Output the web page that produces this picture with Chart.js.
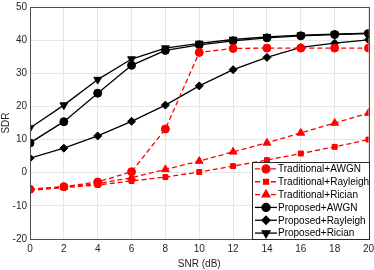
<!DOCTYPE html>
<html lang="en">
<head>
<meta charset="UTF-8">
<title>SDR vs SNR</title>
<script src="https://cdn.jsdelivr.net/npm/chart.js"></script>
<style>
  html, body { margin: 0; padding: 0; background: #fff; }
  #wrap { width: 374px; height: 270px; }
</style>
</head>
<body>
<div id="wrap"><canvas id="chart" width="374" height="270"></canvas></div>
<script>
// SNR values (dB)
const snr = [0, 2, 4, 6, 8, 10, 12, 14, 16, 18, 20];

// SDR values
const tradAwgn     = [-5.0, -4.2, -2.8, 0.3, 13.2, 36.3, 37.5, 37.6, 37.6, 37.6, 37.6];
const tradRayleigh = [-5.3, -4.5, -3.7, -2.5, -1.3, 0.2, 2.0, 3.8, 5.8, 7.8, 10.0];
const tradRician   = [-5.0, -4.3, -3.3, -1.5, 1.0, 3.5, 6.3, 9.0, 12.0, 15.0, 18.0];
const propAwgn     = [9.0, 15.4, 24.0, 32.4, 36.9, 38.6, 39.8, 40.7, 41.3, 41.7, 42.0];
const propRayleigh = [4.4, 7.4, 11.1, 15.5, 20.4, 26.2, 31.1, 34.8, 37.8, 39.1, 40.1];
const propRician   = [13.5, 20.4, 28.1, 34.3, 37.6, 39.0, 40.2, 41.0, 41.5, 41.8, 42.1];

const xTicks = [0, 2, 4, 6, 8, 10, 12, 14, 16, 18, 20];
const yTicks = [-20, -10, 0, 10, 20, 30, 40, 50];

const RED = '#ff0000';
const BLACK = '#000000';
const FONT = '"Liberation Sans", Arial, Helvetica, sans-serif';

function pts(ys) {
  return snr.map((x, i) => ({ x: x, y: ys[i] }));
}

function series(label, ys, color, style, dashed, rot, r) {
  return {
    label: label,
    data: pts(ys),
    borderColor: color,
    backgroundColor: color,
    borderWidth: 1.3,
    borderDash: dashed ? [5, 3] : [],
    pointStyle: style,
    pointRotation: rot || 0,
    pointRadius: r || 4,
    pointBorderWidth: 1,
    pointBorderColor: color,
    pointBackgroundColor: color,
    fill: false,
    tension: 0
  };
}

const datasets = [
  series('Traditional+AWGN', tradAwgn, RED, 'circle', true),
  series('Traditional+Rayleigh', tradRayleigh, RED, 'rect', true, 0, 3.5),
  series('Traditional+Rician', tradRician, RED, 'triangle', true, 0, 4.5),
  series('Proposed+AWGN', propAwgn, BLACK, 'circle', false),
  series('Proposed+Rayleigh', propRayleigh, BLACK, 'rectRot', false, 0, 4),
  series('Proposed+Rician', propRician, BLACK, 'triangle', false, 180, 4.5)
];

// box around plot + legend drawn inside the axes
const boxAndLegend = {
  id: 'boxAndLegend',
  afterDraw(chart) {
    const ctx = chart.ctx;
    const a = chart.chartArea;
    ctx.save();
    ctx.strokeStyle = '#4d4d4d';
    ctx.lineWidth = 1;
    ctx.setLineDash([]);
    ctx.strokeRect(Math.round(a.left) + 0.5, Math.round(a.top) + 0.5,
                   Math.round(a.right - a.left), Math.round(a.bottom - a.top));

    // legend
    const lx = 252, ly = 162, lw = 117, lh = 77;
    ctx.fillStyle = '#fff';
    ctx.fillRect(lx, ly, lw, lh);
    ctx.strokeStyle = '#262626';
    ctx.strokeRect(lx + 0.5, ly + 0.5, lw, lh);
    const rowH = lh / datasets.length;
    ctx.font = '10px ' + FONT;
    ctx.textBaseline = 'middle';
    chart.data.datasets.forEach((ds, i) => {
      const cy = ly + rowH * (i + 0.5) + 0.5;
      ctx.strokeStyle = ds.borderColor;
      ctx.lineWidth = ds.borderWidth;
      ctx.setLineDash(ds.borderDash);
      ctx.beginPath();
      ctx.moveTo(lx + 3, cy);
      ctx.lineTo(lx + 25, cy);
      ctx.stroke();
      ctx.setLineDash([]);
      ctx.fillStyle = ds.backgroundColor;
      Chart.helpers.drawPoint(ctx, {
        pointStyle: ds.pointStyle,
        rotation: ds.pointRotation,
        radius: ds.pointRadius,
        borderWidth: 1
      }, lx + 14, cy);
      ctx.fillStyle = '#000';
      ctx.fillText(ds.label, lx + 26, cy + 0.5);
    });
    ctx.restore();
  }
};

new Chart(document.getElementById('chart'), {
  type: 'line',
  data: { datasets: datasets },
  options: {
    responsive: false,
    animation: false,
    layout: { padding: 0 },
    plugins: {
      legend: { display: false },
      tooltip: { enabled: false }
    },
    scales: {
      x: {
        type: 'linear',
        min: 0,
        max: 20,
        afterBuildTicks(scale) { scale.ticks = xTicks.map(v => ({ value: v })); },
        afterFit(scale) {
          scale.height = 31;
          scale.paddingRight = 5;
          scale.paddingLeft = 0;
        },
        grid: { color: '#e6e6e6', drawTicks: false },
        border: { display: false },
        ticks: {
          color: '#262626',
          padding: 4,
          maxRotation: 0,
          font: { family: FONT, size: 10 }
        },
        title: {
          display: true,
          text: 'SNR (dB)',
          color: '#262626',
          padding: { top: 1, bottom: 0 },
          font: { family: FONT, size: 10 }
        }
      },
      y: {
        type: 'linear',
        min: -20,
        max: 50,
        afterBuildTicks(scale) { scale.ticks = yTicks.map(v => ({ value: v })); },
        afterFit(scale) {
          scale.width = 30;
        },
        grid: { color: '#e6e6e6', drawTicks: false },
        border: { display: false },
        ticks: {
          color: '#262626',
          padding: 3,
          font: { family: FONT, size: 10, lineHeight: 0.8 }
        },
        title: {
          display: true,
          text: 'SDR',
          color: '#262626',
          padding: { top: 0, bottom: 2 },
          font: { family: FONT, size: 10 }
        }
      }
    }
  },
  plugins: [boxAndLegend]
});
</script>
</body>
</html>
